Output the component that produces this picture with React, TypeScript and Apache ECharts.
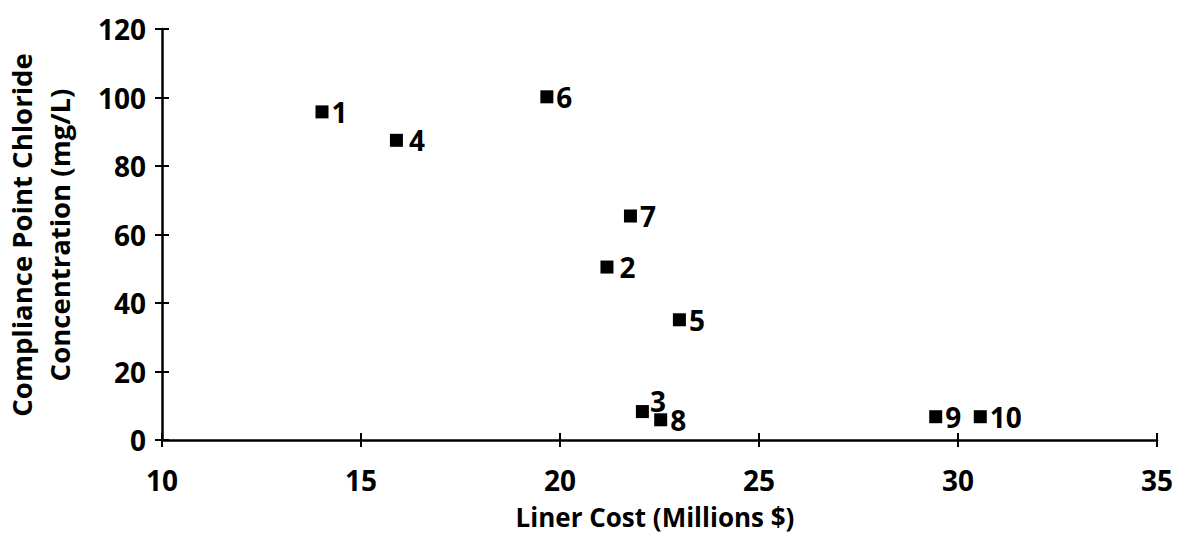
import React, { useEffect, useRef } from "react";
import * as echarts from "echarts";

const pointNames = ["1", "2", "3", "4", "5", "6", "7", "8", "9", "10"];
const linerCost = [14.02, 21.18, 22.07, 15.89, 23.0, 19.67, 21.77, 22.53, 29.44, 30.56];
const chloride = [95.8, 50.5, 8.3, 87.5, 35.1, 100.2, 65.4, 5.9, 6.8, 6.8];
const xTicks = [10, 15, 20, 25, 30, 35];
const yTicks = [0, 20, 40, 60, 80, 100, 120];
const xTitle = "Liner Cost (Millions $)";
const yTitle = ["Compliance Point Chloride", "Concentration (mg/L)"];

const FONT = "Open Sans";

export default function App() {
  const ref = useRef<HTMLDivElement>(null);
  useEffect(() => {
    if (!ref.current) return;
    const chart = echarts.init(ref.current, undefined, { renderer: "svg" });
    const labelOffsets: Record<string, number[]> = { "3": [-2, -11], "4": [3, 0], "2": [3, 0] };
    const data = pointNames.map((n, i) => ({
      value: [linerCost[i], chloride[i]],
      name: n,
      label: labelOffsets[n] ? { offset: labelOffsets[n] } : undefined,
    }));
    const axisCommonX = {
      type: "value",
      min: xTicks[0],
      max: xTicks[xTicks.length - 1],
      interval: 5,
      splitLine: { show: false },
    };
    const axisCommonY = {
      type: "value",
      min: yTicks[0],
      max: yTicks[yTicks.length - 1],
      interval: 20,
      splitLine: { show: false },
    };
    const tickFont = { color: "#000", fontSize: 28, fontWeight: 700, fontFamily: FONT };
    chart.setOption({
      animation: false,
      backgroundColor: "#ffffff",
      grid: { left: 162, right: 20, top: 29, bottom: 96, containLabel: false },
      xAxis: [
        {
          ...axisCommonX,
          position: "bottom",
          axisLine: { show: true, lineStyle: { color: "#000", width: 2.5 } },
          axisTick: { show: true, inside: false, length: 7, lineStyle: { color: "#000", width: 2 } },
          axisLabel: { show: true, ...tickFont, margin: 26 },
        },
        {
          ...axisCommonX,
          position: "bottom",
          axisLine: { show: false },
          axisTick: { show: true, inside: true, length: 7, lineStyle: { color: "#000", width: 2 } },
          axisLabel: { show: false },
        },
      ],
      yAxis: [
        {
          ...axisCommonY,
          position: "left",
          axisLine: { show: true, lineStyle: { color: "#000", width: 2.5 } },
          axisTick: { show: true, inside: false, length: 7, lineStyle: { color: "#000", width: 2 } },
          axisLabel: { show: true, ...tickFont, margin: 16 },
        },
        {
          ...axisCommonY,
          position: "left",
          axisLine: { show: false },
          axisTick: { show: true, inside: true, length: 7, lineStyle: { color: "#000", width: 2 } },
          axisLabel: { show: false },
        },
      ],
      series: [
        {
          type: "scatter",
          xAxisIndex: 0,
          yAxisIndex: 0,
          symbol: "rect",
          symbolSize: 13,
          itemStyle: { color: "#000", opacity: 1 },
          label: {
            show: true,
            position: "right",
            distance: 3,
            formatter: (p: any) => p.name,
            ...tickFont,
          },
          data,
        },
      ],
      graphic: [
        {
          type: "text",
          x: 655,
          y: 517,
          style: {
            text: xTitle,
            fill: "#000",
            fontSize: 26,
            fontWeight: 700,
            fontFamily: FONT,
            align: "center",
            verticalAlign: "middle",
          },
        },
        {
          type: "text",
          x: 40,
          y: 235,
          rotation: Math.PI / 2,
          style: {
            text: yTitle.join("\n"),
            fill: "#000",
            fontSize: 27.5,
            fontWeight: 700,
            fontFamily: FONT,
            align: "center",
            verticalAlign: "middle",
            lineHeight: 38,
          },
        },
      ],
    });
    return () => chart.dispose();
  }, []);
  return (
    <div
      ref={ref}
      style={{ position: "fixed", left: 0, top: 0, width: 1177, height: 536, background: "#fff" }}
    />
  );
}
